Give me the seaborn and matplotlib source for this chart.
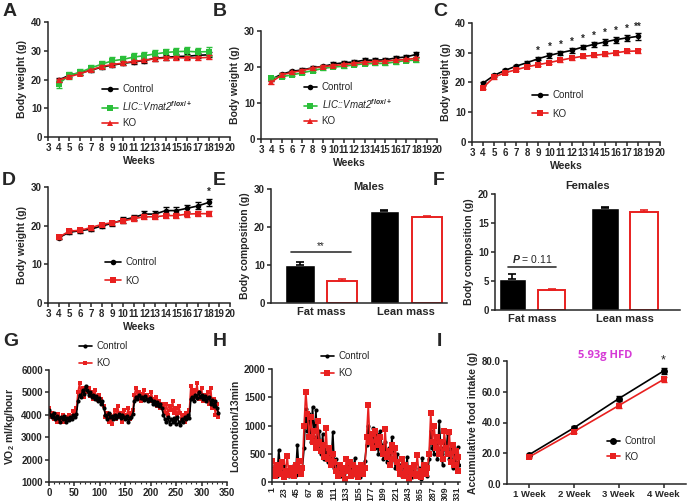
import numpy as np
import pandas as pd
import matplotlib
matplotlib.use('Agg')
import matplotlib.pyplot as plt
import seaborn as sns

sns.set_style('ticks')
plt.rcParams['font.family'] = ['Liberation Sans', 'DejaVu Sans']
plt.rcParams['font.size'] = 7
plt.rcParams['font.weight'] = 'bold'
plt.rcParams['axes.labelweight'] = 'bold'
plt.rcParams['axes.linewidth'] = 1.1
plt.rcParams['mathtext.fontset'] = 'custom'
plt.rcParams['mathtext.rm'] = 'Liberation Sans'
plt.rcParams['mathtext.it'] = 'Liberation Sans:italic'
plt.rcParams['mathtext.bf'] = 'Liberation Sans:bold'

BLACK = '#000000'
RED = '#e8201f'
GREEN = '#2bbf3a'

# ---------------- data ----------------
weeks = list(range(4, 19))

# A: males, chow
a_ctrl = [19.8, 21.5, 22.3, 23.2, 24.3, 25.0, 25.6, 26.1, 26.6, 27.4, 27.7, 28.0, 28.1, 28.4, 28.6]
a_ctrl_se = [0.6, 0.6, 0.6, 0.6, 0.6, 0.7, 0.7, 0.7, 0.7, 0.8, 0.8, 0.8, 0.8, 0.8, 0.8]
a_flox = [18.5, 21.5, 22.5, 24.0, 25.3, 26.5, 27.0, 27.8, 28.3, 28.9, 29.4, 29.7, 29.8, 29.6, 29.7]
a_flox_se = [1.5, 1.2, 1.0, 1.0, 1.1, 1.2, 1.2, 1.3, 1.3, 1.3, 1.3, 1.3, 1.4, 1.4, 1.5]
a_ko = [19.8, 21.0, 22.0, 23.3, 24.5, 25.2, 25.7, 26.3, 26.7, 27.2, 27.5, 27.6, 27.5, 27.5, 27.7]
a_ko_se = [0.5, 0.5, 0.5, 0.5, 0.6, 0.6, 0.6, 0.6, 0.6, 0.7, 0.7, 0.7, 0.7, 0.7, 0.7]

# B: females, chow
b_ctrl = [16.6, 18.0, 18.8, 19.2, 19.8, 20.2, 20.8, 21.2, 21.4, 21.9, 21.9, 22.0, 22.5, 22.8, 23.5]
b_ctrl_se = [0.4, 0.4, 0.4, 0.4, 0.4, 0.4, 0.5, 0.5, 0.5, 0.5, 0.5, 0.5, 0.6, 0.6, 0.7]
b_flox = [16.9, 17.3, 17.8, 18.4, 19.0, 19.6, 20.0, 20.2, 20.6, 20.9, 21.0, 21.0, 21.4, 21.8, 21.9]
b_flox_se = [0.4, 0.4, 0.4, 0.4, 0.4, 0.4, 0.4, 0.4, 0.4, 0.4, 0.4, 0.5, 0.5, 0.5, 0.5]
b_ko = [15.8, 17.8, 18.5, 19.0, 19.7, 20.1, 20.4, 20.7, 21.0, 21.3, 21.5, 21.6, 21.9, 22.1, 22.4]
b_ko_se = [0.4, 0.4, 0.4, 0.4, 0.4, 0.4, 0.4, 0.4, 0.4, 0.4, 0.4, 0.4, 0.4, 0.4, 0.4]

# C: males, HFD
c_ctrl = [19.8, 22.4, 24.1, 25.5, 26.7, 28.0, 29.1, 30.0, 30.8, 31.9, 32.8, 33.6, 34.4, 35.0, 35.5]
c_ctrl_se = [0.5, 0.5, 0.5, 0.5, 0.5, 0.6, 0.7, 0.7, 0.8, 0.8, 0.9, 0.9, 1.0, 1.0, 1.1]
c_ko = [18.3, 21.8, 23.3, 24.3, 25.3, 26.0, 26.7, 27.5, 28.2, 28.8, 29.1, 29.5, 30.0, 30.5, 30.6]
c_ko_se = [0.6, 0.5, 0.5, 0.5, 0.5, 0.5, 0.5, 0.5, 0.5, 0.5, 0.6, 0.6, 0.6, 0.6, 0.7]
c_stars = ['', '', '', '', '', '*', '*', '*', '*', '*', '*', '*', '*', '*', '**']

# D: females, HFD
d_ctrl = [16.9, 18.3, 18.7, 19.1, 19.9, 20.6, 21.5, 22.1, 23.0, 23.0, 23.9, 23.9, 24.5, 25.1, 26.0]
d_ctrl_se = [0.4, 0.4, 0.5, 0.6, 0.6, 0.6, 0.7, 0.7, 0.8, 0.8, 0.8, 0.8, 0.9, 0.9, 1.0]
d_ko = [17.0, 18.6, 18.8, 19.5, 20.3, 20.8, 21.2, 21.8, 22.3, 22.3, 22.6, 22.6, 23.0, 23.1, 23.1]
d_ko_se = [0.4, 0.5, 0.5, 0.5, 0.5, 0.5, 0.6, 0.6, 0.6, 0.6, 0.7, 0.7, 0.7, 0.7, 0.7]

# E / F: body composition
parts = ['Fat mass', 'Lean mass']
e_ctrl = [10.1, 24.3]
e_ctrl_se = [0.7, 0.3]
e_ko = [5.9, 22.6]
e_ko_se = [0.5, 0.3]
f_ctrl = [5.3, 17.5]
f_ctrl_se = [0.9, 0.2]
f_ko = [3.4, 16.9]
f_ko_se = [0.2, 0.4]

# G: VO2, one value every 3 time points
g_ctrl = [4200, 4000, 3900, 4100, 3800, 3950, 3850, 3700, 3900, 3800, 3950, 3700, 3850, 3750, 3900, 3800, 4000, 3900, 4050,
          4600, 4900, 4800, 5100, 4950, 5300, 5100, 4900, 5000, 4800, 4900, 4700, 4850, 4600, 4750, 4500, 4600, 4300,
          4000, 3800, 4100, 3900, 3950, 3800, 4000, 3850, 3950, 4050, 3850, 4000, 3900, 3800, 3950, 3700, 3850, 3900, 4050,
          4600, 4800, 4700, 4900, 4750, 4800, 4650, 4850, 4700, 4600, 4750, 4650, 4500, 4600, 4450, 4550, 4400, 4500, 4300,
          4000, 3800, 3700, 3900, 3600, 3800, 3700, 3850, 3600, 3900, 3700, 3550, 3800, 3700, 3900, 3800, 4000, 3850,
          4700, 4800, 4600, 4900, 4750, 5000, 4800, 4900, 4700, 4850, 4600, 4750, 4800, 4500, 4650, 4400, 4600, 4300, 4100]
g_ko = [4300, 3900, 4100, 3800, 4000, 3700, 4050, 3850, 3750, 4000, 3700, 3900, 3800, 4000, 3850, 3950, 4150, 4100, 4300,
        5000, 5400, 4900, 5200, 4800, 5100, 5000, 5200, 4850, 5000, 4700, 5100, 4800, 4650, 4900, 4700, 4500, 4400,
        3900, 4100, 3700, 4000, 3600, 3900, 4200, 3800, 4400, 3900, 4100, 3700, 4200, 3900, 4000, 4300, 3800, 4100, 4200,
        4900, 5200, 4800, 5000, 4600, 4950, 5100, 4700, 4900, 4800, 4600, 5000, 4700, 4500, 4800, 4400, 4600, 4300, 4500,
        4300, 4100, 4500, 4000, 4400, 4200, 4600, 4100, 4300, 3900, 4400, 4100, 3800, 4000, 3700, 4100, 3900, 4200,
        5300, 4900, 5100, 4800, 5400, 4700, 5000, 5200, 4600, 4900, 4700, 5000, 4500, 5200, 4300, 4700, 4000, 4500, 3900]

# H: locomotion per 13 min, one value every 3 bins starting at bin 1
h_ctrl = [250, 150, 300, 100, 570, 200, 120, 280, 150, 220, 100, 250, 180, 300, 130, 660, 200, 150, 250,
          600, 1300, 900, 1200, 700, 1330, 800, 1270, 600, 900, 500, 850, 400, 600, 350, 500, 300, 890,
          250, 400, 150, 300, 100, 250, 50, 200, 300, 100, 250, 150, 420, 100, 200, 80, 250, 150, 380,
          650, 1000, 700, 800, 950, 600, 850, 500, 900, 650, 400, 700, 350, 600, 300, 800, 450, 250, 500,
          200, 300, 100, 250, 150, 440, 100, 200, 80, 300, 150, 100, 250, 50, 420, 150, 250, 100, 400,
          900, 600, 500, 800, 400, 1080, 600, 300, 700, 500, 850, 400, 600, 250, 500, 350, 620, 300]
h_ko = [380, 200, 100, 300, 250, 150, 350, 80, 200, 460, 120, 250, 180, 100, 300, 200, 380, 150, 250,
        1000, 1600, 1200, 800, 1150, 700, 900, 600, 1080, 700, 550, 650, 450, 950, 400, 600, 300, 500,
        350, 200, 100, 300, 150, 250, 50, 400, 200, 350, 100, 300, 150, 250, 80, 200, 300, 150, 250,
        800, 1360, 700, 850, 600, 900, 750, 650, 800, 600, 500, 930, 450, 550, 300, 650, 400, 600, 350,
        250, 150, 400, 100, 300, 200, 50, 250, 150, 300, 100, 480, 150, 80, 200, 300, 150, 250, 500,
        1220, 700, 1000, 600, 800, 500, 700, 400, 900, 600, 500, 880, 350, 650, 300, 550, 200, 450]
h_ticks = list(range(1, 332, 22))

# I: accumulative food intake
food_weeks = ['1 Week', '2 Week', '3 Week', '4 Week']
i_ctrl = [19.0, 36.5, 55.5, 73.5]
i_ctrl_se = [0.8, 1.0, 1.5, 1.8]
i_ko = [17.5, 34.0, 51.0, 68.0]
i_ko_se = [0.8, 1.0, 1.5, 1.5]

# ---------------- layout helpers ----------------
W, H = 688, 501
fig = plt.figure(figsize=(W / 100, H / 100), dpi=100)


def box(x0, y0, x1, y1):
    return fig.add_axes([x0 / W, 1 - y1 / H, (x1 - x0) / W, (y1 - y0) / H])


def fpos(x, y):
    return (x / W, 1 - y / H)


def style(ax):
    sns.despine(ax=ax)
    ax.tick_params(direction='out', length=3, width=1.1, labelsize=7, pad=1.5)
    for lab in ax.get_xticklabels() + ax.get_yticklabels():
        lab.set_fontweight('bold')


def legend(ax, x, y, **kw):
    leg = ax.legend(loc='upper left', bbox_to_anchor=fpos(x, y), bbox_transform=fig.transFigure,
                    frameon=False, fontsize=7, borderpad=0, borderaxespad=0,
                    handlelength=kw.pop('hl', 1.6), handletextpad=0.5,
                    labelspacing=kw.pop('ls', 0.55), **kw)
    for t in leg.get_texts():
        t.set_fontweight('normal')
    return leg


def series(ax, x, y, se, color, marker, label, ms=4):
    sns.lineplot(x=x, y=y, color=color, marker=marker, markersize=ms, markeredgewidth=0,
                 linewidth=1.2, label=label, ax=ax)
    if se is not None:
        ax.errorbar(x, y, yerr=se, fmt='none', ecolor=color, elinewidth=1, capsize=2, capthick=1)


def weight_axes(ax, ymax):
    ax.set_xlim(3, 20)
    ax.set_ylim(0, ymax)
    ax.set_xticks(range(3, 21))
    ax.set_yticks(range(0, ymax + 1, 10))
    ax.set_xlabel('Weeks', fontsize=7.5, fontweight='bold', labelpad=2)
    ax.set_ylabel('Body weight (g)', fontsize=7.5, fontweight='bold', labelpad=3)
    style(ax)


# ---------------- A ----------------
ax = box(48, 22, 230, 137)
series(ax, weeks, a_ctrl, a_ctrl_se, BLACK, 'o', 'Control')
series(ax, weeks, a_flox, a_flox_se, GREEN, 's', 'LIC::Vmat2$^{flox/+}$')
series(ax, weeks, a_ko, a_ko_se, RED, '^', 'KO')
weight_axes(ax, 40)
leg = legend(ax, 102, 84)
leg.get_texts()[1].set_style('italic')

# ---------------- B ----------------
ax = box(261, 31, 437, 139)
series(ax, weeks, b_ctrl, b_ctrl_se, BLACK, 'o', 'Control')
series(ax, weeks, b_flox, b_flox_se, GREEN, 's', 'LIC::Vmat2$^{flox/+}$')
series(ax, weeks, b_ko, b_ko_se, RED, '^', 'KO')
weight_axes(ax, 30)
leg = legend(ax, 304, 82, hl=1.3)
leg.get_texts()[1].set_style('italic')

# ---------------- C ----------------
ax = box(472, 23, 660, 142)
series(ax, weeks, c_ctrl, c_ctrl_se, BLACK, 'o', 'Control')
series(ax, weeks, c_ko, c_ko_se, RED, 's', 'KO')
weight_axes(ax, 40)
for w, v, e, s in zip(weeks, c_ctrl, c_ctrl_se, c_stars):
    if s:
        ax.text(w, v + e + 0.4, s, ha='center', va='bottom', fontsize=7)
legend(ax, 532, 90, ls=0.9)

# ---------------- D ----------------
ax = box(48, 187, 230, 303)
series(ax, weeks, d_ctrl, d_ctrl_se, BLACK, 'o', 'Control')
series(ax, weeks, d_ko, d_ko_se, RED, 's', 'KO')
weight_axes(ax, 30)
ax.text(weeks[-1], d_ctrl[-1] + d_ctrl_se[-1] + 0.5, '*', ha='center', va='bottom', fontsize=7)
legend(ax, 105, 257, ls=0.9)


# ---------------- E / F ----------------
def comp_panel(ax, ctrl, ctrl_se, ko, ko_se, ymax, step, width, xlim):
    df = pd.DataFrame({'part': parts * 2, 'mass': ctrl + ko,
                       'group': ['Control'] * 2 + ['KO'] * 2})
    sns.barplot(data=df, x='part', y='mass', hue='group', palette=[BLACK, 'white'],
                width=width, gap=0.3, legend=False, errorbar=None, ax=ax)
    for bar in ax.containers[1]:
        bar.set_edgecolor(RED)
        bar.set_linewidth(1.4)
    for cont, vals, se in zip(ax.containers, [ctrl, ko], [ctrl_se, ko_se]):
        xs = [b.get_x() + b.get_width() / 2 for b in cont]
        col = BLACK if cont is ax.containers[0] else RED
        ax.errorbar(xs, vals, yerr=[[0] * len(se), se], fmt='none', ecolor=col,
                    elinewidth=1.2, capsize=3, capthick=1.2)
    ax.set_xlim(*xlim)
    ax.set_ylim(0, ymax)
    ax.set_yticks(np.arange(0, ymax + 0.1, step))
    ax.set_xlabel('')
    ax.set_ylabel('Body composition (g)', fontsize=7.5, fontweight='bold', labelpad=3)
    style(ax)
    ax.tick_params(axis='x', length=0, labelsize=8, pad=3)
    return [ax.containers[0][0].get_x() + ax.containers[0][0].get_width() / 2,
            ax.containers[1][0].get_x() + ax.containers[1][0].get_width() / 2]


ax = box(271, 189, 447, 303)
xs = comp_panel(ax, e_ctrl, e_ctrl_se, e_ko, e_ko_se, 30, 10, 1.0, (-0.59, 1.49))
ax.plot([xs[0] - 0.1, xs[1] + 0.1], [13.3, 13.3], color='#333333', lw=1.2)
ax.text(sum(xs) / 2, 13.6, '**', ha='center', va='bottom', fontsize=7, fontweight='normal')
fig.text(*fpos(369, 187), 'Males', ha='center', va='center', fontsize=8, fontweight='bold')

ax = box(495, 194, 680, 310)
xs = comp_panel(ax, f_ctrl, f_ctrl_se, f_ko, f_ko_se, 20, 5, 0.85, (-0.4, 1.6))
ax.plot([xs[0] - 0.05, xs[1] + 0.05], [7.4, 7.4], color='#333333', lw=1.2)
ax.text(sum(xs) / 2, 7.8, '$P$ = 0.11', ha='center', va='bottom', fontsize=7.5, fontweight='normal')
fig.text(*fpos(588, 186), 'Females', ha='center', va='center', fontsize=8, fontweight='bold')

# ---------------- G ----------------
ax = box(49, 370, 227, 482)
gx = np.arange(len(g_ctrl)) * 3
series(ax, gx, g_ko, None, RED, 's', 'KO', ms=3.2)
series(ax, gx, g_ctrl, None, BLACK, 'o', 'Control', ms=3)
ax.set_xlim(0, 350)
ax.set_ylim(1000, 6000)
ax.set_xticks(range(0, 351, 50))
ax.set_xticks(range(0, 351, 10), minor=True)
ax.set_yticks(range(1000, 6001, 1000))
ax.set_xlabel('')
ax.set_ylabel('VO$_\\mathbf{2}$ ml/kg/hour', fontsize=7.5, fontweight='bold', labelpad=3)
style(ax)
ax.tick_params(which='minor', length=1.5, width=0.8)
h, l = ax.get_legend_handles_labels()
legend(ax, 79, 341, handles=h[::-1], labels=l[::-1], ls=0.75, hl=1.3)

# ---------------- H ----------------
ax = box(272, 369, 460, 482)
hx = np.arange(len(h_ctrl)) * 3 + 1
series(ax, hx, h_ctrl, None, BLACK, 'o', 'Control', ms=3)
series(ax, hx, h_ko, None, RED, 's', 'KO', ms=4)
ax.set_xlim(1, 335)
ax.set_ylim(0, 2000)
ax.set_xticks(h_ticks)
ax.set_xticklabels([str(t) for t in h_ticks], rotation=90)
ax.set_yticks(range(0, 2001, 500))
ax.set_xlabel('')
ax.set_ylabel('Locomotion/13min', fontsize=7.5, fontweight='bold', labelpad=3)
style(ax)
ax.tick_params(axis='x', labelsize=6.3, pad=1, length=2.5)
legend(ax, 321, 351, ls=0.75, hl=1.3)

# ---------------- I ----------------
ax = box(507, 361, 686, 484)
ix = list(range(len(food_weeks)))
series(ax, ix, i_ctrl, i_ctrl_se, BLACK, 'o', 'Control', ms=5)
series(ax, ix, i_ko, i_ko_se, RED, 's', 'KO', ms=5)
ax.set_xlim(-0.49, 3.5)
ax.set_ylim(0, 80)
ax.set_xticks(ix)
ax.set_xticklabels(food_weeks)
ax.set_yticks(range(0, 81, 20))
ax.set_yticklabels([f'{v:.1f}' for v in range(0, 81, 20)])
ax.set_xlabel('')
ax.set_ylabel('Accumulative food intake (g)', fontsize=7.5, fontweight='bold', labelpad=3)
style(ax)
ax.tick_params(axis='x', pad=1.5, labelsize=6.8)
ax.text(3, i_ctrl[-1] + i_ctrl_se[-1] + 1, '*', ha='center', va='bottom', fontsize=9, fontweight='normal')
ax.text(0.55, 1.0, '5.93g HFD', transform=ax.transAxes, ha='center', va='bottom',
        color='#d63bd6', fontsize=8, fontweight='bold', family=['Open Sans', 'DejaVu Sans'])
legend(ax, 607, 436, ls=0.6, hl=1.3)

# ---------------- panel letters ----------------
for letter, x, y in [('A', 3, 3), ('B', 213, 3), ('C', 433, 3),
                     ('D', 2, 172), ('E', 213, 172), ('F', 433, 172),
                     ('G', 3, 333), ('H', 213, 333), ('I', 437, 333)]:
    fig.text(*fpos(x, y), letter, fontsize=14, fontweight='bold', ha='left', va='top')

fig.savefig('out.png', dpi=100)
